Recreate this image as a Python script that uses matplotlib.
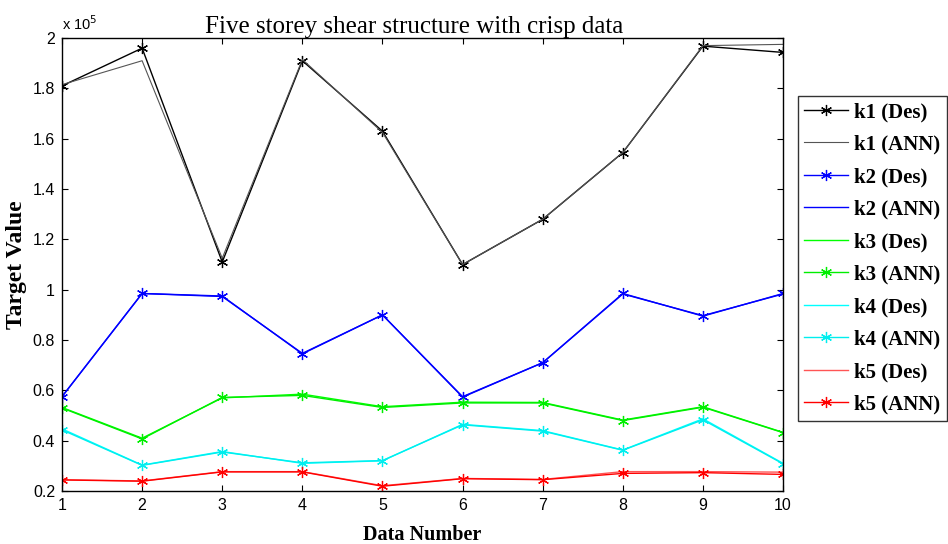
import numpy as np
import matplotlib
matplotlib.use("Agg")
import matplotlib.pyplot as plt
from matplotlib.ticker import FuncFormatter

# design (Des) vs network (ANN) stiffness for the five storeys
data_number = [1, 2, 3, 4, 5, 6, 7, 8, 9, 10]

k1_des = [1.81e5, 1.96e5, 1.11e5, 1.91e5, 1.63e5, 1.10e5, 1.28e5, 1.545e5, 1.968e5, 1.943e5]
k1_ann = [1.815e5, 1.91e5, 1.125e5, 1.915e5, 1.625e5, 1.10e5, 1.28e5, 1.545e5, 1.97e5, 1.975e5]
k2_des = [0.575e5, 0.985e5, 0.975e5, 0.745e5, 0.90e5, 0.575e5, 0.71e5, 0.985e5, 0.895e5, 0.985e5]
k2_ann = [0.575e5, 0.985e5, 0.973e5, 0.747e5, 0.90e5, 0.573e5, 0.71e5, 0.983e5, 0.897e5, 0.983e5]
k3_des = [0.532e5, 0.410e5, 0.570e5, 0.585e5, 0.535e5, 0.553e5, 0.552e5, 0.482e5, 0.535e5, 0.433e5]
k3_ann = [0.530e5, 0.407e5, 0.572e5, 0.580e5, 0.532e5, 0.550e5, 0.550e5, 0.480e5, 0.533e5, 0.432e5]
k4_des = [0.447e5, 0.303e5, 0.357e5, 0.310e5, 0.320e5, 0.465e5, 0.440e5, 0.363e5, 0.487e5, 0.310e5]
k4_ann = [0.443e5, 0.302e5, 0.355e5, 0.312e5, 0.321e5, 0.463e5, 0.438e5, 0.362e5, 0.483e5, 0.308e5]
k5_des = [0.245e5, 0.240e5, 0.277e5, 0.277e5, 0.221e5, 0.250e5, 0.246e5, 0.277e5, 0.277e5, 0.275e5]
k5_ann = [0.244e5, 0.239e5, 0.276e5, 0.276e5, 0.219e5, 0.249e5, 0.245e5, 0.270e5, 0.273e5, 0.266e5]

star = (6, 2, 0)

fig = plt.figure(figsize=(9.48, 5.44), dpi=100)
ax = fig.add_axes([0.0654, 0.0974, 0.7606, 0.8326])

ax.plot(data_number, k1_des, color="k", lw=1.0, marker=star, ms=8, mew=0.9, label="k1 (Des)")
ax.plot(data_number, k1_ann, color="#555555", lw=0.8, label="k1 (ANN)")
ax.plot(data_number, k2_des, color="b", lw=1.0, marker=star, ms=8, mew=0.9, label="k2 (Des)")
ax.plot(data_number, k2_ann, color="b", lw=1.0, label="k2 (ANN)")
ax.plot(data_number, k3_des, color="#00ff00", lw=1.0, label="k3 (Des)")
ax.plot(data_number, k3_ann, color="#00ee00", lw=1.0, marker=star, ms=8, mew=0.9, label="k3 (ANN)")
ax.plot(data_number, k4_des, color="cyan", lw=1.0, label="k4 (Des)")
ax.plot(data_number, k4_ann, color="#00eeee", lw=1.0, marker=star, ms=8, mew=0.9, label="k4 (ANN)")
ax.plot(data_number, k5_des, color="#ff5555", lw=1.0, label="k5 (Des)")
ax.plot(data_number, k5_ann, color="r", lw=1.0, marker=star, ms=8, mew=0.9, label="k5 (ANN)")

ax.set_xlim(1, 10)
ax.set_ylim(0.2e5, 2e5)
ax.set_xticks(data_number)
ax.set_yticks(np.arange(0.2e5, 2.01e5, 0.2e5))
ax.yaxis.set_major_formatter(FuncFormatter(lambda v, p: "%g" % round(v / 1e5, 1)))
ax.tick_params(direction="in", top=True, right=True, length=4, width=0.8,
               labelsize=11.5, pad=5)
for lab in ax.get_xticklabels() + ax.get_yticklabels():
    lab.set_family("Liberation Sans")
for s in ax.spines.values():
    s.set_linewidth(1.0)

ax.text(0.0, 1.012, r"x 10$^5$", transform=ax.transAxes, fontsize=10.5,
        family="Liberation Sans", ha="left", va="bottom")

ax.set_title("Five storey shear structure with crisp data", family="Liberation Serif",
             fontsize=18, pad=4, x=0.489)
ax.set_xlabel("Data Number", family="Liberation Serif", fontweight="bold", fontsize=14.5, labelpad=9)
ax.set_ylabel("Target Value", family="Liberation Serif", fontweight="bold", fontsize=17, labelpad=4)

leg = ax.legend(loc="upper left", bbox_to_anchor=(798 / 948, 1 - 96 / 544),
                bbox_transform=fig.transFigure, prop={"family": "Liberation Serif",
                "weight": "bold", "size": 15}, frameon=True, fancybox=False,
                edgecolor="k", handlelength=2.1, handletextpad=0.3,
                labelspacing=0.6, borderaxespad=0, borderpad=0.3)
leg.get_frame().set_linewidth(1.0)

fig.savefig("out.png", dpi=100)
